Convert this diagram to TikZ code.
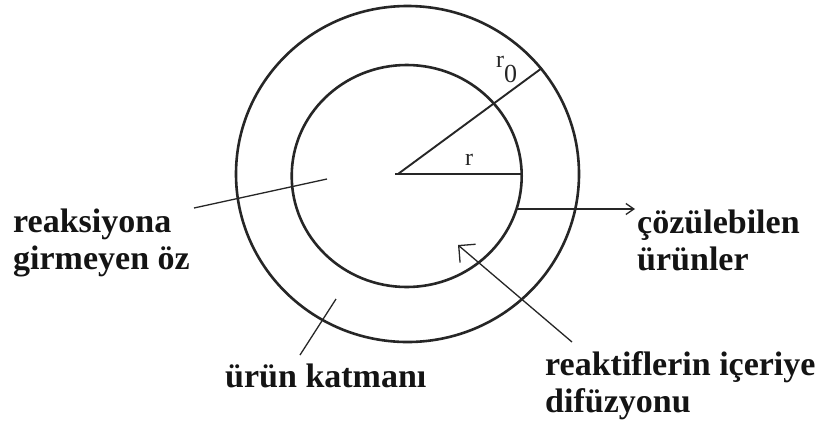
\documentclass[tikz,border=0pt]{standalone}
\usepackage{fontspec}
\setmainfont{Liberation Serif}
\usetikzlibrary{arrows.meta}
\begin{document}
\begin{tikzpicture}[x=1pt,y=-1pt,
  ring/.style={line width=2.6pt, draw=black!85},
  radline/.style={line width=1.9pt, draw=black!85},
  lead/.style={line width=1.3pt, draw=black!85},
  lbl/.style={inner sep=0pt, anchor=base west, align=left, text=black!92,
    font=\bfseries\fontsize{34}{37}\selectfont},
  sym/.style={inner sep=0pt, anchor=base west, text=black!85,
    font=\fontsize{24}{28}\selectfont}]
\useasboundingbox[fill=white] (0,0) rectangle (824,421);

% rings
\coordinate (C) at (407.5,174);
\coordinate (Ci) at (406.7,176);
\draw[ring] (C) ellipse [x radius=171.5, y radius=168];
\draw[ring] (Ci) ellipse [x radius=115, y radius=111];

% radii
\coordinate (Os) at (395,174);
\coordinate (O) at (398,174);
\coordinate (R) at (522,174);
\coordinate (R0) at (542,68);
\draw[radline, line width=2.8pt] (Os) -- (R);
\draw[radline] (O) -- (R0);
\node[sym] (r0lbl) at (496,67) {r\raisebox{-15pt}{\fontsize{26}{28}\selectfont 0}};
\node[sym] (rlbl) at (465,165) {r};

% labels (anchor = baseline of the last line)
\node[lbl] (core) at (13,269) {reaksiyona\\girmeyen öz};
\node[lbl] (sol) at (637,270) {çözülebilen\\ürünler};
\node[lbl] (diff) at (545,412) {reaktiflerin içeriye\\difüzyonu};
\node[lbl] (layer) at (225,387) {ürün katmanı};

% leaders
\coordinate (a1) at (194,208);
\coordinate (a2) at (327,179);
\draw[lead] (a1) -- (a2);
\coordinate (b1) at (300,355);
\coordinate (b2) at (336,299);
\draw[lead] (b1) -- (b2);
\coordinate (c1) at (517,209);
\coordinate (c2) at (635,209);
\draw[lead, -{Straight Barb[length=8pt,width=11pt]}] (c1) -- (c2);
\coordinate (d1) at (572,342);
\coordinate (d2) at (458,245);
\draw[lead, -{Straight Barb[angle=90:17pt]}] (d1) -- (d2);
\end{tikzpicture}
\end{document}
